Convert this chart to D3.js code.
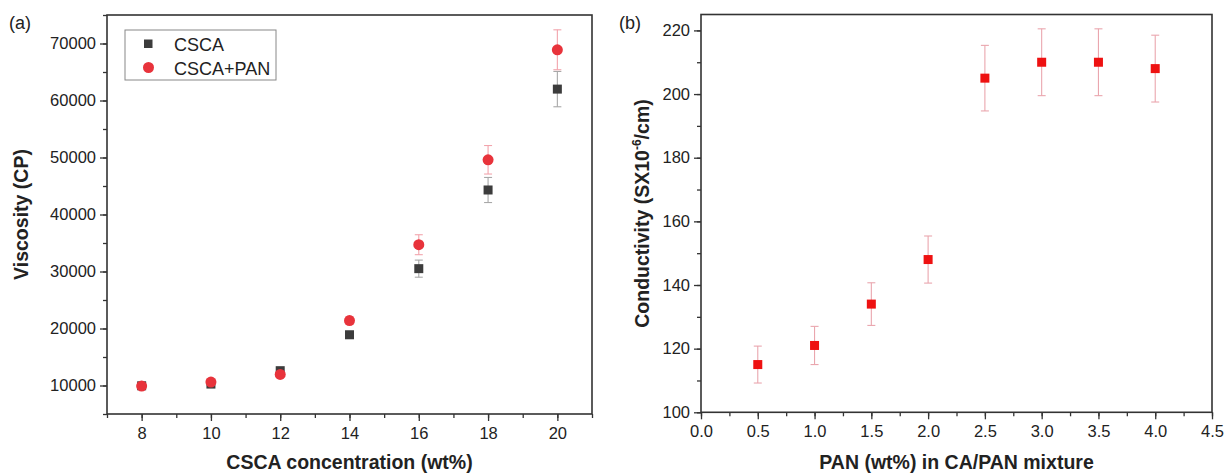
<!DOCTYPE html>
<html>
<head>
<meta charset="utf-8">
<script src="https://cdn.jsdelivr.net/npm/d3@7"></script>
<style>
  body { margin: 0; background: #fff; }
  svg { font-family: "Liberation Sans", Arial, sans-serif; }
</style>
</head>
<body>
<svg id="chart" width="1225" height="474"></svg>
<script>
// panel (a) data
const concentration = [8, 10, 12, 14, 16, 18, 20];
const cscaVisc = [9950, 10250, 12600, 18900, 30500, 44300, 62000];
const cscaErr = [300, 300, 350, 600, 1500, 2200, 3100];
const panVisc = [9900, 10600, 11950, 21400, 34700, 49600, 68900];
const panErr = [300, 350, 400, 700, 1750, 2500, 3500];

// panel (b) data
const panWt = [0.5, 1.0, 1.5, 2.0, 2.5, 3.0, 3.5, 4.0];
const conductivity = [115, 121, 134, 148, 205, 210, 210, 208];
const condErr = [5.8, 6, 6.7, 7.4, 10.3, 10.5, 10.5, 10.5];

const svg = d3.select('#chart');
const axisColor = '#333';

function frame(g, x0, y0, x1, y1) {
  g.append('rect')
    .attr('x', x0).attr('y', y0)
    .attr('width', x1 - x0).attr('height', y1 - y0)
    .attr('fill', 'none')
    .attr('stroke', axisColor)
    .attr('stroke-width', 1.6);
}

function styleAxis(sel) {
  sel.select('.domain').remove();
  sel.selectAll('line').attr('stroke', axisColor).attr('stroke-width', 1.3);
  sel.selectAll('text').attr('fill', '#222').style('font-size', '16.5px');
}

// ---------- panel (a) ----------
const xa = d3.scaleLinear().domain([7, 21]).range([107, 592]);
const ya = d3.scaleLinear().domain([5000, 75000]).range([414, 15]);
const ga = svg.append('g');

// minor ticks
ga.append('g').attr('transform', 'translate(0,414)')
  .call(d3.axisBottom(xa).tickValues(d3.range(7, 22, 1)).tickSize(4).tickFormat(''))
  .call(styleAxis);
ga.append('g').attr('transform', 'translate(107,0)')
  .call(d3.axisLeft(ya).tickValues(d3.range(5000, 75001, 5000)).tickSize(4).tickFormat(''))
  .call(styleAxis);
// major ticks
ga.append('g').attr('transform', 'translate(0,414)')
  .call(d3.axisBottom(xa).tickValues(concentration).tickSize(7).tickPadding(6).tickFormat(d3.format('d')))
  .call(styleAxis);
ga.append('g').attr('transform', 'translate(107,0)')
  .call(d3.axisLeft(ya).tickValues(d3.range(10000, 70001, 10000)).tickSize(7).tickPadding(4).tickFormat(d3.format('d')))
  .call(styleAxis);
frame(ga, 107, 15, 592, 414);

function errorBars(g, xs, ys, errs, x, y, color) {
  const cap = 4;
  const eb = g.append('g').attr('stroke', color).attr('stroke-width', 1.1);
  xs.forEach((xv, i) => {
    const cx = x(xv);
    const top = y(ys[i] + errs[i]);
    const bot = y(ys[i] - errs[i]);
    eb.append('line').attr('x1', cx).attr('x2', cx).attr('y1', top).attr('y2', bot);
    eb.append('line').attr('x1', cx - cap).attr('x2', cx + cap).attr('y1', top).attr('y2', top);
    eb.append('line').attr('x1', cx - cap).attr('x2', cx + cap).attr('y1', bot).attr('y2', bot);
  });
}

errorBars(ga, concentration, cscaVisc, cscaErr, xa, ya, '#a8a8a8');
errorBars(ga, concentration, panVisc, panErr, xa, ya, '#f2a4ac');

ga.append('g').selectAll('rect')
  .data(concentration)
  .enter().append('rect')
  .attr('x', (d, i) => xa(d) - 4.5)
  .attr('y', (d, i) => ya(cscaVisc[i]) - 4.5)
  .attr('width', 9).attr('height', 9)
  .attr('fill', '#3c3c3c');

ga.append('g').selectAll('circle')
  .data(concentration)
  .enter().append('circle')
  .attr('cx', d => xa(d))
  .attr('cy', (d, i) => ya(panVisc[i]))
  .attr('r', 5.5)
  .attr('fill', '#e8333b');

// legend
const leg = ga.append('g');
leg.append('rect').attr('x', 125).attr('y', 30).attr('width', 151).attr('height', 50)
  .attr('fill', '#fff').attr('stroke', '#888').attr('stroke-width', 1);
leg.append('rect').attr('x', 144).attr('y', 39.5).attr('width', 8.5).attr('height', 8.5).attr('fill', '#3c3c3c');
leg.append('circle').attr('cx', 148.5).attr('cy', 67.5).attr('r', 5.5).attr('fill', '#e8333b');
leg.append('text').attr('x', 174).attr('y', 51).text('CSCA').style('font-size', '18px').attr('fill', '#222');
leg.append('text').attr('x', 174).attr('y', 74.5).text('CSCA+PAN').style('font-size', '18px').attr('fill', '#222');

ga.append('text').attr('x', 9).attr('y', 29).text('(a)').style('font-size', '18px').attr('fill', '#222');
ga.append('text')
  .attr('x', 349.5).attr('y', 469)
  .attr('text-anchor', 'middle')
  .style('font-size', '19.5px').style('font-weight', 'bold').attr('fill', '#222')
  .text('CSCA concentration (wt%)');
ga.append('text')
  .attr('transform', 'translate(28,214.5) rotate(-90)')
  .attr('text-anchor', 'middle')
  .style('font-size', '19.5px').style('font-weight', 'bold').attr('fill', '#222')
  .text('Viscosity (CP)');

// ---------- panel (b) ----------
const xb = d3.scaleLinear().domain([0, 4.5]).range([701, 1212]);
const yb = d3.scaleLinear().domain([100, 225]).range([412.3, 14.5]);
const gb = svg.append('g');

gb.append('g').attr('transform', 'translate(0,412.3)')
  .call(d3.axisBottom(xb).tickValues(d3.range(0, 4.51, 0.25)).tickSize(4).tickFormat(''))
  .call(styleAxis);
gb.append('g').attr('transform', 'translate(701,0)')
  .call(d3.axisLeft(yb).tickValues(d3.range(100, 221, 10)).tickSize(4).tickFormat(''))
  .call(styleAxis);
gb.append('g').attr('transform', 'translate(0,412.3)')
  .call(d3.axisBottom(xb).tickValues(d3.range(0, 4.51, 0.5)).tickSize(7).tickPadding(6).tickFormat(d3.format('.1f')))
  .call(styleAxis);
gb.append('g').attr('transform', 'translate(701,0)')
  .call(d3.axisLeft(yb).tickValues(d3.range(100, 221, 20)).tickSize(7).tickPadding(4).tickFormat(d3.format('d')))
  .call(styleAxis);
frame(gb, 701, 14.5, 1212, 412.3);

errorBars(gb, panWt, conductivity, condErr, xb, yb, '#eaa6ae');

gb.append('g').selectAll('rect')
  .data(panWt)
  .enter().append('rect')
  .attr('x', d => xb(d) - 4.5)
  .attr('y', (d, i) => yb(conductivity[i]) - 4.5)
  .attr('width', 9).attr('height', 9)
  .attr('fill', '#ee1111');

gb.append('text').attr('x', 619).attr('y', 29).text('(b)').style('font-size', '18px').attr('fill', '#222');
gb.append('text')
  .attr('x', 956.5).attr('y', 469)
  .attr('text-anchor', 'middle')
  .style('font-size', '19.5px').style('font-weight', 'bold').attr('fill', '#222')
  .text('PAN (wt%) in CA/PAN mixture');
const yt = gb.append('text')
  .attr('transform', 'translate(649,213.5) rotate(-90)')
  .attr('text-anchor', 'middle')
  .style('font-size', '19.5px').style('font-weight', 'bold').attr('fill', '#222');
yt.append('tspan').text('Conductivity (SX10');
yt.append('tspan').attr('dy', -8).style('font-size', '12px').text('-6');
yt.append('tspan').attr('dy', 8).text('/cm)');
</script>
</body>
</html>
